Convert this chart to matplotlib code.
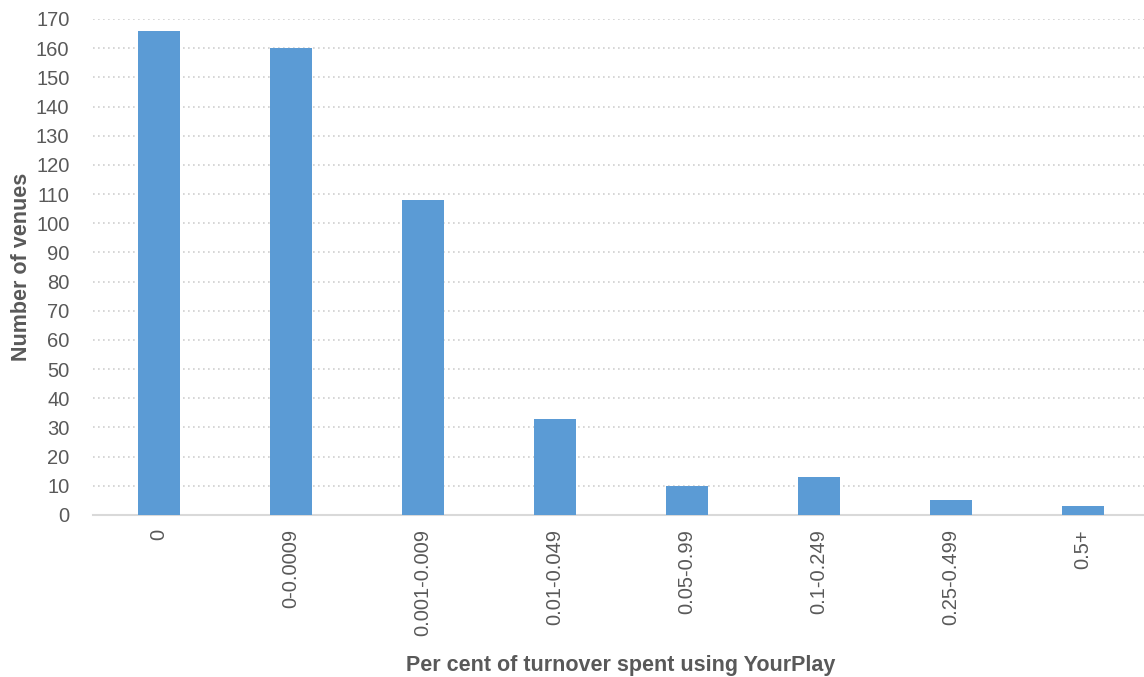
import matplotlib.pyplot as plt

# datos
categorias = ['0', '0-0.0009', '0.001-0.009', '0.01-0.049', '0.05-0.99',
              '0.1-0.249', '0.25-0.499', '0.5+']
venues = [166, 160, 108, 33, 10, 13, 5, 3]

plt.rcParams['font.family'] = ['Liberation Sans', 'DejaVu Sans']
gris = '#595959'

fig = plt.figure(figsize=(11.44, 6.77), dpi=100)
ax = fig.add_axes([93 / 1144, 1 - 515 / 677, 1056 / 1144, 496 / 677])

x = range(len(categorias))
ax.bar(x, venues, width=0.32, color='#5b9bd5', zorder=3)

ax.set_xlim(-0.5, len(categorias) - 0.5)
ax.set_ylim(0, 170)
ax.set_yticks(range(0, 171, 10))
ax.set_xticks(list(x))
ax.set_xticklabels(categorias, rotation=90, fontsize=14.5, color=gris)
ax.tick_params(axis='y', labelsize=14.5, colors=gris, length=0, pad=17)
ax.tick_params(axis='x', length=0, pad=10)

ax.yaxis.grid(True, linestyle=(0, (1, 2)), color='#d0d0d0', linewidth=1.2, zorder=0)
for s in ['top', 'right', 'left']:
    ax.spines[s].set_visible(False)
ax.spines['bottom'].set_color('#d9d9d9')
ax.spines['bottom'].set_linewidth(1.5)

ax.set_ylabel('Number of venues', fontsize=15.5, fontweight='bold', color=gris, labelpad=3)
ax.set_xlabel('Per cent of turnover spent using YourPlay', fontsize=15.5,
              fontweight='bold', color=gris, labelpad=14)

plt.savefig('out.png', dpi=100)
